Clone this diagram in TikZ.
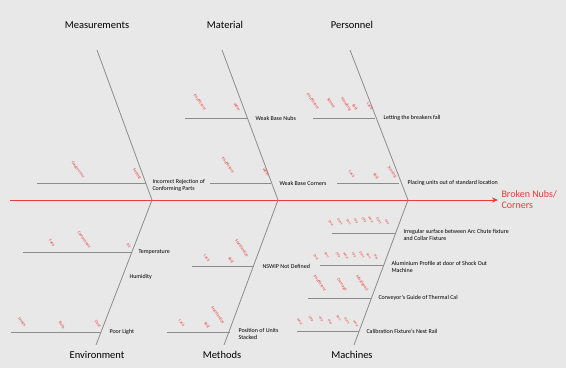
\documentclass[tikz,border=0pt]{standalone}
\usepackage{fontspec}
\setmainfont{Carlito}
\usetikzlibrary{arrows.meta}
\definecolor{paper}{RGB}{232,232,232}
\definecolor{bonegray}{RGB}{140,140,140}
\definecolor{fishred}{RGB}{232,60,60}
\tikzset{
  bone/.style={draw=bonegray, line width=0.8pt},
  spine/.style={draw=fishred, line width=0.8pt, -{Stealth[length=6pt,width=5pt]}},
  heading/.style={font=\fontsize{10.5}{12}\selectfont},
  reason/.style={anchor=west, align=left, font=\fontsize{6}{7}\selectfont},
  why/.style={text=fishred, rotate=-55, inner sep=0pt, font=\fontsize{4.2}{4.2}\selectfont},
  whysmall/.style={why, font=\fontsize{3.4}{3.4}\selectfont}
}
\begin{document}
\begin{tikzpicture}[x=1pt,y=-1pt]
    \fill[paper] (0,0) rectangle (566,368);

    % headings
    \node[heading] (meas) at (97,25) {Measurements};
    \node[heading] (matl) at (225,25) {Material};
    \node[heading] (pers) at (352,25) {Personnel};
    \node[heading] (envi) at (97,355) {Environment};
    \node[heading] (meth) at (222,355) {Methods};
    \node[heading] (mach) at (352,355) {Machines};

    % spine and effect
    \coordinate (tail) at (10,200);
    \node[text=fishred, anchor=west, align=left, font=\fontsize{10}{11}\selectfont] (effect) at (498,200) {Broken Nubs/\\Corners};
    \draw[spine] (tail) -- (effect.west);

    % main bones
    \coordinate (j1) at (152,200);
    \coordinate (j2) at (278,200);
    \coordinate (j3) at (408,200);
    \draw[bone] (97,50) coordinate (b1) -- (j1);
    \draw[bone] (222,50) coordinate (b2) -- (j2);
    \draw[bone] (350,50) coordinate (b3) -- (j3);
    \draw[bone] (j1) -- (96,345) coordinate (b4);
    \draw[bone] (j2) -- (224,345) coordinate (b5);
    \draw[bone] (j3) -- (354,345) coordinate (b6);

    % causes
    \node[reason] (nubs) at (252,118) {Weak Base Nubs};
    \draw[bone] (185,118) coordinate (nubs0) -- (248,118);
    \node[reason] (fall) at (380,118) {Letting the breakers fall};
    \draw[bone] (313,118) coordinate (fall0) -- (375,118);
    \node[reason] (reject) at (149,185) {Incorrect Rejection of\\Conforming Parts};
    \draw[bone] (37,183) coordinate (reject0) -- (146,183);
    \node[reason] (corners) at (276,183) {Weak Base Corners};
    \draw[bone] (210,183) coordinate (corners0) -- (271,183);
    \node[reason] (placing) at (404,183) {Placing units out of standard location};
    \draw[bone] (337,183) coordinate (placing0) -- (399,183);

    \node[reason] (temp) at (135,252) {Temperature};
    \draw[bone] (23,252) coordinate (temp0) -- (132,252);
    \node[reason] (humid) at (126,277) {Humidity};
    \node[reason] (light) at (106,332) {Poor Light};
    \draw[bone] (11,332) coordinate (light0) -- (101,332);
    \node[reason] (nswip) at (259,266) {NSWIP Not Defined};
    \draw[bone] (192,266) coordinate (nswip0) -- (254,266);
    \node[reason] (stack) at (235,334) {Position of Units\\Stacked};
    \draw[bone] (167,332) coordinate (stack0) -- (230,332);

    \node[reason] (arc) at (400,235) {Irregular surface between Arc Chute fixture\\and Collar Fixture};
    \draw[bone] (332,233) coordinate (arc0) -- (395,233);
    \node[reason] (alu) at (388,267) {Aluminium Profile at door of Shock Out\\Machine};
    \draw[bone] (320,265) coordinate (alu0) -- (383,265);
    \node[reason] (conv) at (375,298) {Conveyor's Guide of Thermal Cal};
    \draw[bone] (308,298) coordinate (conv0) -- (371,298);
    \node[reason] (calib) at (363,331) {Calibration Fixture's Nest Rail};
    \draw[bone] (297,331) coordinate (calib0) -- (359,331);

    % sub-causes, spread out
    \foreach \x/\y/\t [count=\i] in {
        200/102/Insufficient, 237/107/Wear,
        313/101/Insufficient, 331/103/Speed, 346/104/Handling, 355/107/Skill, 370/106/Lack,
        78/170/Gauge error, 137/174/Setting,
        228/165/Insufficient, 266/172/Wear,
        352/174/Lack, 376/176/Skill, 392/172/Training,
        320/283/Insufficient, 342/285/Damage, 362/283/Misaligned,
        52/243/Fans, 84/240/Compressor, 129/246/Air,
        22/322/Lamps, 62/325/Bulb, 98/324/Dust,
        207/258/Lack, 231/260/Skill, 242/248/Standardize,
        182/323/Lack, 207/325/Skill, 218/315/Standardize}
      \node[why] (w\i) at (\x,\y) {\t};
    % sub-causes, packed close
    \foreach \x/\y/\t [count=\i] in {
        331/223/Dust, 340/222/Dent, 349/222/Burr, 356/221/Gap, 364/220/Chip,
        371/220/Wear, 379/221/Dent, 387/222/Gap,
        316/257/Dust, 327/255/Burr, 338/255/Chip, 346/256/Wear, 354/255/Gap,
        362/255/Dent, 369/256/Burr, 376/257/Play,
        300/322/Wear, 311/319/Chip, 321/319/Gap, 330/322/Play, 339/318/Burr, 347/321/Dent, 356/324/Wear}
      \node[whysmall] (p\i) at (\x,\y) {\t};
\end{tikzpicture}
\end{document}
